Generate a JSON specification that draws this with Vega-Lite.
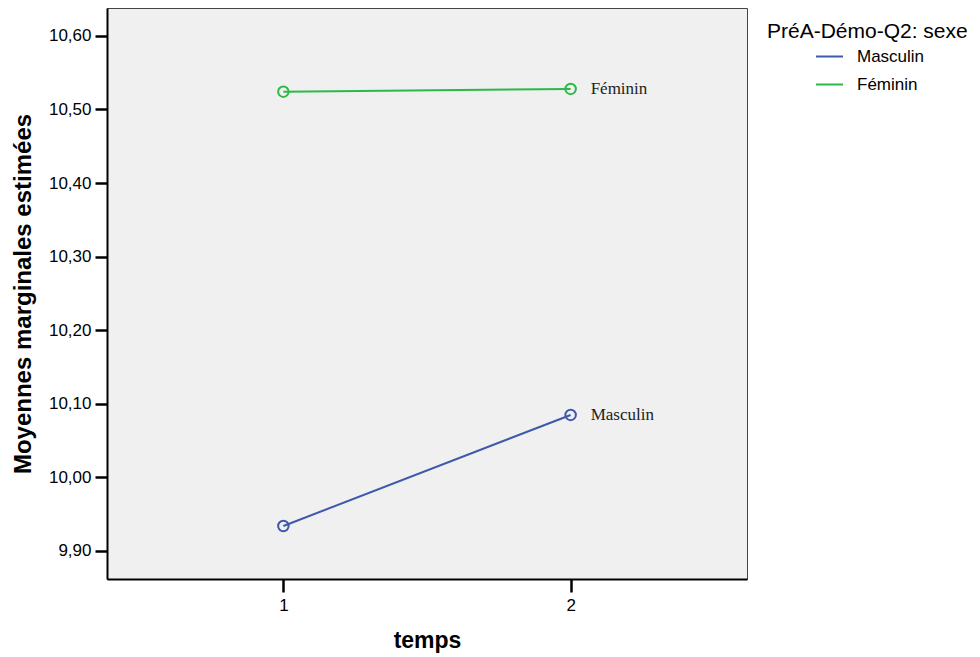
{
  "$schema": "https://vega.github.io/schema/vega-lite/v6.json",
  "width": 640,
  "height": 571,
  "autosize": {"type": "none"},
  "padding": {"left": 107, "top": 8, "right": 233, "bottom": 78},
  "background": "white",
  "config": {
    "font": "Liberation Sans",
    "view": {"fill": "#f0f0f0", "stroke": "#444444", "strokeWidth": 1}
  },
  "data": {
    "values": [
      {"temps": 1, "sexe": "Masculin", "moyenne": 9.9336},
      {"temps": 2, "sexe": "Masculin", "moyenne": 10.0846},
      {"temps": 1, "sexe": "Féminin", "moyenne": 10.5242},
      {"temps": 2, "sexe": "Féminin", "moyenne": 10.528}
    ]
  },
  "encoding": {
    "x": {
      "field": "temps",
      "type": "quantitative",
      "scale": {"domain": [0.386, 2.614], "nice": false, "zero": false},
      "axis": {
        "title": "temps",
        "values": [1, 2],
        "format": "d",
        "grid": false,
        "domainColor": "black",
        "domainWidth": 2,
        "tickColor": "black",
        "tickWidth": 2.5,
        "tickSize": 13,
        "labelFontSize": 17,
        "labelColor": "black",
        "labelPadding": 5,
        "titleFontSize": 23,
        "titleFontWeight": "bold",
        "titleColor": "black",
        "titlePadding": 16
      }
    },
    "y": {
      "field": "moyenne",
      "type": "quantitative",
      "scale": {"domain": [9.8615, 10.638], "nice": false, "zero": false},
      "axis": {
        "title": "Moyennes marginales estimées",
        "values": [9.9, 10.0, 10.1, 10.2, 10.3, 10.4, 10.5, 10.6],
        "labelExpr": "replace(format(datum.value, '.2f'), '.', ',')",
        "grid": false,
        "domainColor": "black",
        "domainWidth": 2,
        "tickColor": "black",
        "tickWidth": 2.5,
        "tickSize": 12,
        "labelFontSize": 17,
        "labelColor": "black",
        "labelPadding": 4,
        "titleFontSize": 24,
        "titleFontWeight": "bold",
        "titleColor": "black",
        "titlePadding": 13,
        "titleLimit": 600
      }
    },
    "color": {
      "field": "sexe",
      "type": "nominal",
      "scale": {"domain": ["Masculin", "Féminin"], "range": ["#3e58ac", "#2eb848"]},
      "legend": {
        "title": "PréA-Démo-Q2: sexe",
        "orient": "none",
        "legendX": 660,
        "legendY": 13,
        "titleFontSize": 21,
        "titleFontWeight": "normal",
        "titleColor": "black",
        "titlePadding": 0,
        "titleLimit": 400,
        "symbolType": "stroke",
        "symbolSize": 729,
        "symbolStrokeWidth": 2,
        "symbolOffset": 48,
        "labelOffset": 13,
        "labelFontSize": 17,
        "labelColor": "black",
        "rowPadding": 5
      }
    }
  },
  "layer": [
    {"mark": {"type": "line", "strokeWidth": 2}},
    {"mark": {"type": "point", "shape": "circle", "filled": false, "strokeWidth": 2, "size": 110, "opacity": 1}},
    {
      "transform": [{"filter": "datum.temps == 2"}],
      "mark": {"type": "text", "align": "left", "baseline": "middle", "dx": 20, "font": "Liberation Serif", "fontSize": 17, "color": "#222222"},
      "encoding": {
        "text": {"field": "sexe"},
        "color": {"value": "#222222"}
      }
    }
  ]
}
